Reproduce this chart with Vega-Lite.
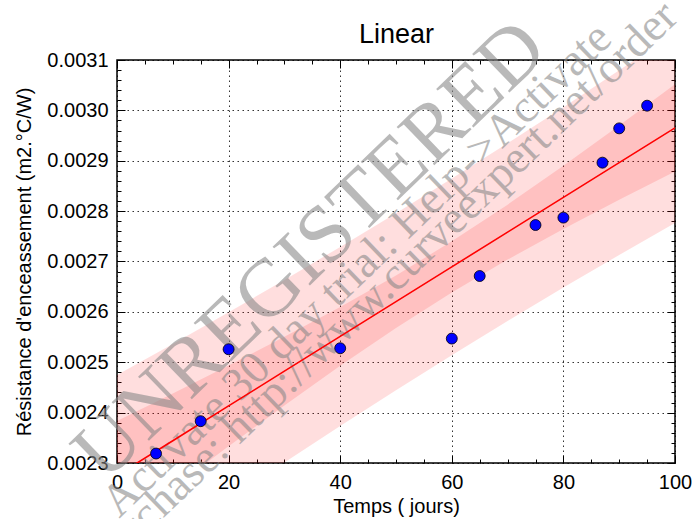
{
  "$schema": "https://vega.github.io/schema/vega-lite/v6.json",
  "width": 558,
  "height": 403,
  "autosize": "none",
  "padding": {"left": 117, "top": 60, "right": 19, "bottom": 56},
  "background": "white",
  "config": {
    "view": {"stroke": "black", "strokeWidth": 1.5},
    "axis": {"labelFont": "Liberation Sans", "titleFont": "Liberation Sans", "labelColor": "black", "titleColor": "black", "tickColor": "black", "labelFontSize": 20, "titleFontSize": 20, "titleFontWeight": "normal", "domain": false, "labelFlush": false, "labelOverlap": false, "tickWidth": 1}
  },
  "datasets": {
    "points": [
      {"temps": 7, "r": 0.0023188},
      {"temps": 15, "r": 0.0023830},
      {"temps": 20, "r": 0.0025258},
      {"temps": 40, "r": 0.0025278},
      {"temps": 60, "r": 0.0025470},
      {"temps": 65, "r": 0.0026712},
      {"temps": 75, "r": 0.0027724},
      {"temps": 80, "r": 0.0027871},
      {"temps": 87, "r": 0.0028962},
      {"temps": 90, "r": 0.0029643},
      {"temps": 95, "r": 0.0030093}
    ],
    "bands": [
      {"temps": 0, "fit": 0.00227526, "lp": 0.00207575, "lc": 0.00216729, "hc": 0.00238323, "hp": 0.00247477},
      {"temps": 10, "fit": 0.00234427, "lp": 0.00215212, "lc": 0.00225060, "hc": 0.00243794, "hp": 0.00253642},
      {"temps": 20, "fit": 0.00241327, "lp": 0.00222730, "lc": 0.00233303, "hc": 0.00249351, "hp": 0.00259924},
      {"temps": 30, "fit": 0.00248228, "lp": 0.00230118, "lc": 0.00241408, "hc": 0.00255048, "hp": 0.00266338},
      {"temps": 40, "fit": 0.00255129, "lp": 0.00237365, "lc": 0.00249289, "hc": 0.00260969, "hp": 0.00272893},
      {"temps": 50, "fit": 0.00262030, "lp": 0.00244461, "lc": 0.00256816, "hc": 0.00267244, "hp": 0.00279599},
      {"temps": 60, "fit": 0.00268930, "lp": 0.00251403, "lc": 0.00263856, "hc": 0.00274004, "hp": 0.00286457},
      {"temps": 70, "fit": 0.00275831, "lp": 0.00258189, "lc": 0.00270374, "hc": 0.00281288, "hp": 0.00293473},
      {"temps": 80, "fit": 0.00282732, "lp": 0.00264822, "lc": 0.00276464, "hc": 0.00289000, "hp": 0.00300642},
      {"temps": 90, "fit": 0.00289633, "lp": 0.00271310, "lc": 0.00282266, "hc": 0.00297000, "hp": 0.00307956},
      {"temps": 100, "fit": 0.00296533, "lp": 0.00277659, "lc": 0.00287887, "hc": 0.00305179, "hp": 0.00315407}
    ],
    "wmBig": [
      {"temps": 34.6, "r": 0.002722, "label": "UNREGISTERED"}
    ],
    "wmSmall": [
      {"temps": 43.0, "r": 0.0026835, "label": "Activate 30 day trial: Help->Activate"},
      {"temps": 47.4, "r": 0.0026470, "label": "Purchase: http://www.curveexpert.net/order"}
    ]
  },
  "resolve": {"axis": {"x": "independent", "y": "independent"}},
  "layer": [
    {
      "data": {"name": "bands"},
      "mark": {"type": "area", "color": "#ff0000", "opacity": 0.13, "clip": true},
      "encoding": {
        "x": {"field": "temps", "type": "quantitative", "scale": {"domain": [0, 100], "nice": false, "zero": false},
          "axis": {"orient": "bottom", "values": [0, 20, 40, 60, 80, 100], "format": "d", "grid": true, "gridColor": "black", "gridOpacity": 0.8, "gridDash": [1.5, 3.5], "gridWidth": 1, "tickSize": -8, "labelPadding": 17, "title": "Temps ( jours)", "titlePadding": 4}},
        "y": {"field": "lp", "type": "quantitative", "scale": {"domain": [0.0023, 0.0031], "nice": false, "zero": false},
          "axis": {"orient": "left", "values": [0.0023, 0.0024, 0.0025, 0.0026, 0.0027, 0.0028, 0.0029, 0.003, 0.0031], "format": ".4f", "grid": true, "gridColor": "black", "gridOpacity": 0.8, "gridDash": [1.5, 3.5], "gridWidth": 1, "tickSize": -8, "labelPadding": 17, "title": "Résistance d'enceassement (m2.°C/W)", "titlePadding": 12}},
        "y2": {"field": "hp"}
      }
    },
    {
      "data": {"name": "bands"},
      "mark": {"type": "area", "color": "#ff0000", "opacity": 0.13, "clip": true},
      "encoding": {
        "x": {"field": "temps", "type": "quantitative", "scale": {"domain": [0, 100], "nice": false, "zero": false},
          "axis": {"orient": "bottom", "values": [5, 10, 15, 25, 30, 35, 45, 50, 55, 65, 70, 75, 85, 90, 95], "labels": false, "grid": false, "tickSize": -4, "title": null}},
        "y": {"field": "lc", "type": "quantitative", "scale": {"domain": [0.0023, 0.0031], "nice": false, "zero": false},
          "axis": {"orient": "left", "values": [0.00232, 0.00234, 0.00236, 0.00238, 0.00242, 0.00244, 0.00246, 0.00248, 0.00252, 0.00254, 0.00256, 0.00258, 0.00262, 0.00264, 0.00266, 0.00268, 0.00272, 0.00274, 0.00276, 0.00278, 0.00282, 0.00284, 0.00286, 0.00288, 0.00292, 0.00294, 0.00296, 0.00298, 0.00302, 0.00304, 0.00306, 0.00308], "labels": false, "grid": false, "tickSize": -4, "title": null}},
        "y2": {"field": "hc"}
      }
    },
    {
      "data": {"name": "wmBig"},
      "mark": {"type": "text", "font": "Liberation Serif", "fontSize": 82, "angle": -44, "align": "center", "baseline": "middle", "color": "#888888", "opacity": 0.58},
      "encoding": {
        "x": {"field": "temps", "type": "quantitative", "scale": {"domain": [0, 100], "nice": false, "zero": false},
          "axis": {"orient": "top", "values": [0, 20, 40, 60, 80, 100], "labels": false, "grid": false, "tickSize": -8, "title": "Linear", "titleFontSize": 27, "titlePadding": 11}},
        "y": {"field": "r", "type": "quantitative", "scale": {"domain": [0.0023, 0.0031], "nice": false, "zero": false},
          "axis": {"orient": "right", "values": [0.0023, 0.0024, 0.0025, 0.0026, 0.0027, 0.0028, 0.0029, 0.003, 0.0031], "labels": false, "grid": false, "tickSize": -8, "title": null}},
        "text": {"field": "label"}
      }
    },
    {
      "data": {"name": "wmSmall"},
      "mark": {"type": "text", "font": "Liberation Serif", "fontSize": 46, "angle": -44, "align": "center", "baseline": "middle", "color": "#888888", "opacity": 0.58},
      "encoding": {
        "x": {"field": "temps", "type": "quantitative", "scale": {"domain": [0, 100], "nice": false, "zero": false},
          "axis": {"orient": "top", "values": [5, 10, 15, 25, 30, 35, 45, 50, 55, 65, 70, 75, 85, 90, 95], "labels": false, "grid": false, "tickSize": -4, "title": null}},
        "y": {"field": "r", "type": "quantitative", "scale": {"domain": [0.0023, 0.0031], "nice": false, "zero": false},
          "axis": {"orient": "right", "values": [0.00232, 0.00234, 0.00236, 0.00238, 0.00242, 0.00244, 0.00246, 0.00248, 0.00252, 0.00254, 0.00256, 0.00258, 0.00262, 0.00264, 0.00266, 0.00268, 0.00272, 0.00274, 0.00276, 0.00278, 0.00282, 0.00284, 0.00286, 0.00288, 0.00292, 0.00294, 0.00296, 0.00298, 0.00302, 0.00304, 0.00306, 0.00308], "labels": false, "grid": false, "tickSize": -4, "title": null}},
        "text": {"field": "label"}
      }
    },
    {
      "data": {"name": "bands"},
      "mark": {"type": "line", "color": "#ff0000", "strokeWidth": 1.6, "clip": true},
      "encoding": {
        "x": {"field": "temps", "type": "quantitative", "scale": {"domain": [0, 100], "nice": false, "zero": false}, "axis": null},
        "y": {"field": "fit", "type": "quantitative", "scale": {"domain": [0.0023, 0.0031], "nice": false, "zero": false}, "axis": null}
      }
    },
    {
      "data": {"name": "points"},
      "mark": {"type": "point", "filled": true, "fill": "#0000ff", "stroke": "black", "strokeWidth": 0.8, "size": 120, "opacity": 1},
      "encoding": {
        "x": {"field": "temps", "type": "quantitative", "scale": {"domain": [0, 100], "nice": false, "zero": false}, "axis": null},
        "y": {"field": "r", "type": "quantitative", "scale": {"domain": [0.0023, 0.0031], "nice": false, "zero": false}, "axis": null}
      }
    }
  ]
}
